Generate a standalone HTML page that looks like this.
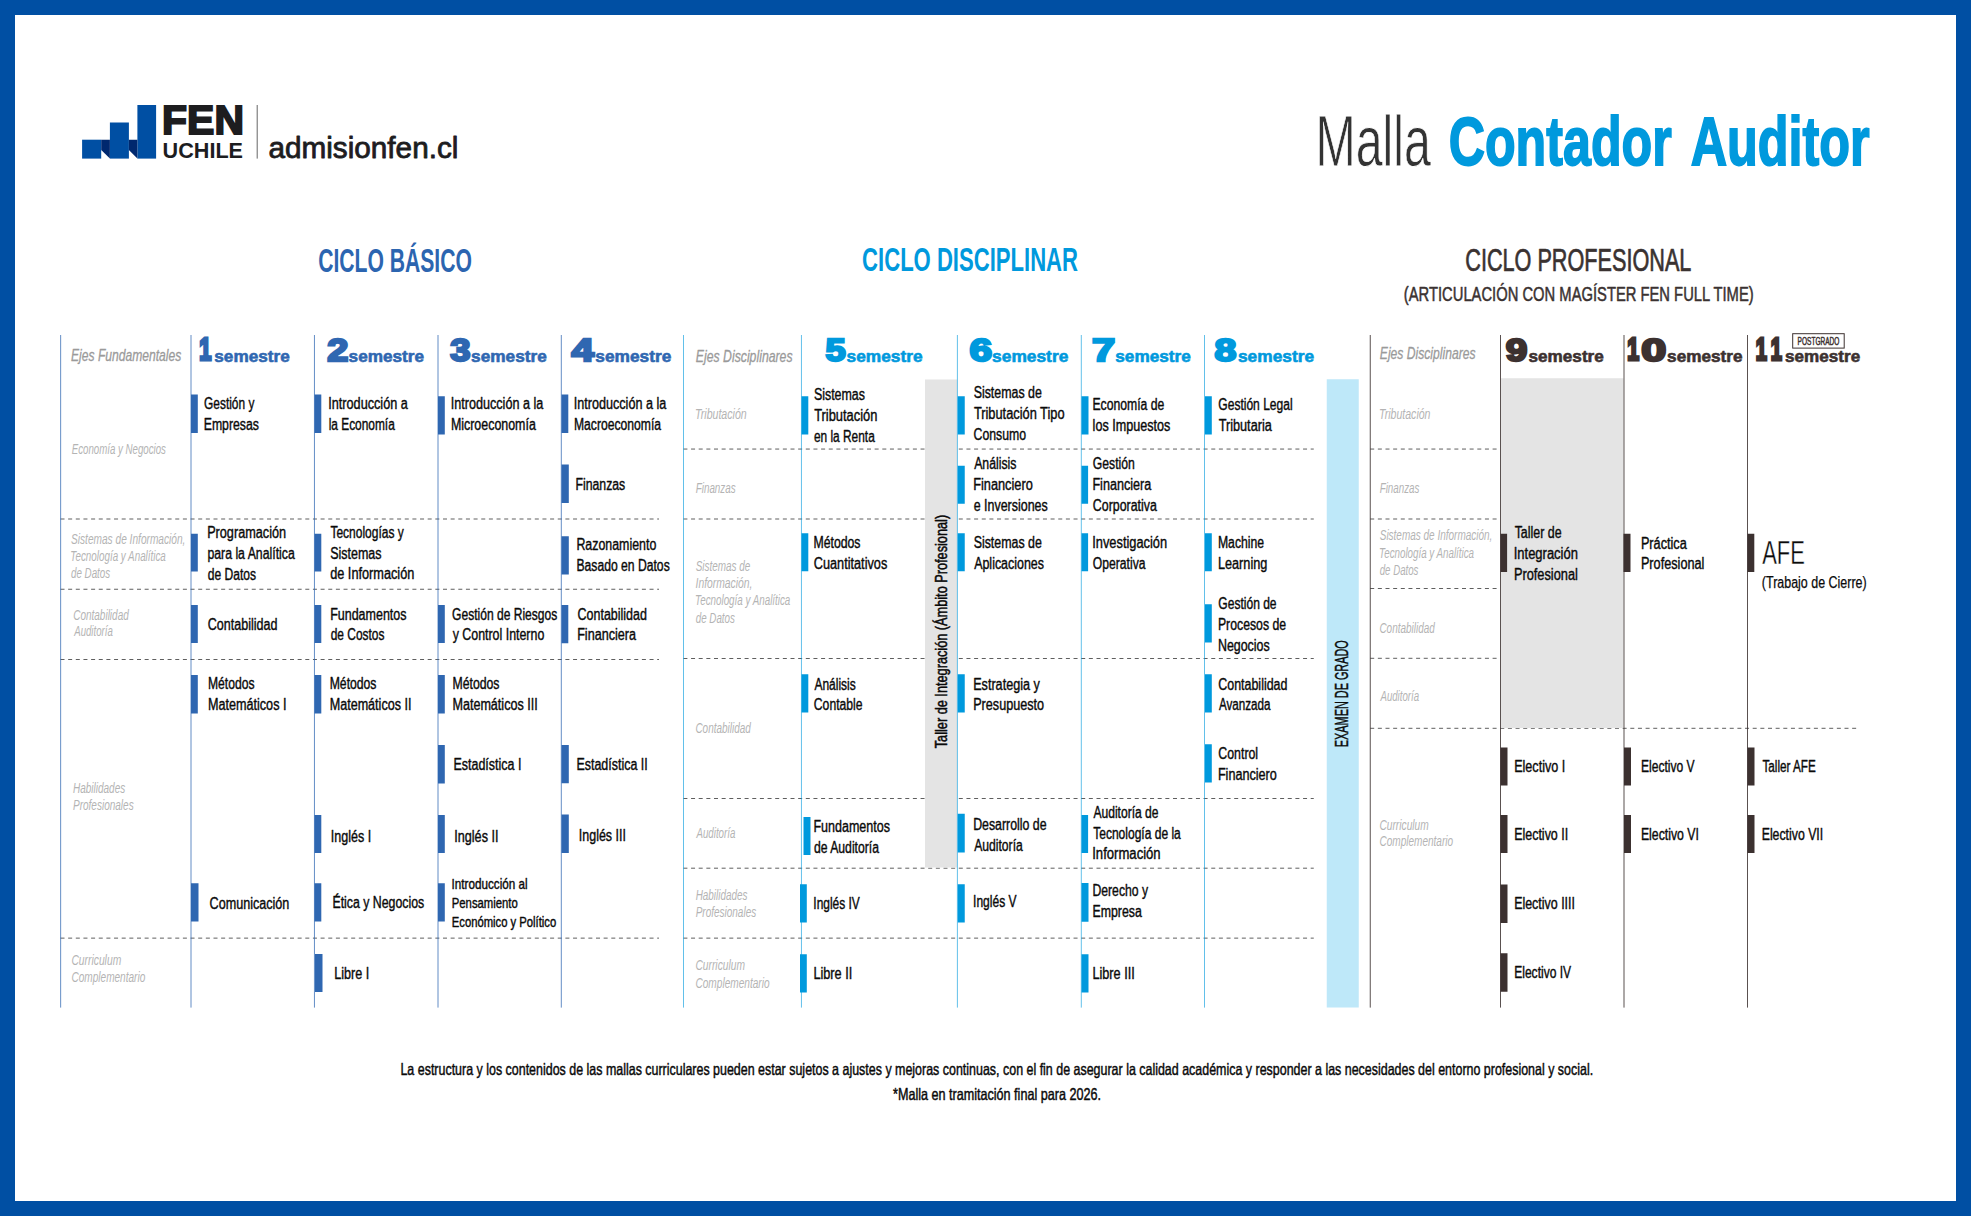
<!DOCTYPE html>
<html lang="es"><head><meta charset="utf-8"><title>Malla Contador Auditor</title>
<style>
html,body{margin:0;padding:0;background:#004fa3;}
body{width:1971px;height:1216px;overflow:hidden;}
svg{display:block;font-family:"Liberation Sans",sans-serif;}
text{white-space:pre;}
</style></head><body>
<svg width="1971" height="1216" viewBox="0 0 1971 1216">
<rect x="0.00" y="0.00" width="1971.00" height="1216.00" fill="#004fa3"/>
<rect x="15.00" y="15.00" width="1941.00" height="1186.00" fill="#ffffff"/>
<rect x="82.10" y="139.70" width="19.10" height="18.90" fill="#004fa3"/>
<rect x="109.90" y="122.50" width="19.00" height="36.10" fill="#004fa3"/>
<rect x="137.40" y="105.00" width="18.70" height="53.60" fill="#004fa3"/>
<polygon points="101.2,139.7 109.9,139.7 109.9,158.6 101.2,149.9" fill="#00286e"/>
<polygon points="128.9,139.7 137.4,139.7 137.4,158.6 128.9,149.9" fill="#00286e"/>
<text x="162.14" y="134.20" textLength="81.82" lengthAdjust="spacingAndGlyphs" font-size="40.60" fill="#1d1d1f" font-weight="700" stroke="#1d1d1f" stroke-width="2.0" stroke-linejoin="miter" stroke-miterlimit="3">FEN</text>
<text x="162.60" y="158.40" textLength="80.46" lengthAdjust="spacingAndGlyphs" font-size="21.60" fill="#1d1d1f" font-weight="700">UCHILE</text>
<line x1="257.20" y1="105.00" x2="257.20" y2="158.60" stroke="#666666" stroke-width="1"/>
<text x="268.44" y="157.50" textLength="189.96" lengthAdjust="spacingAndGlyphs" font-size="28.60" fill="#1d1d1f" stroke="#1d1d1f" stroke-width="0.8" stroke-linejoin="round" stroke-miterlimit="3">admisionfen.cl</text>
<text x="1315.41" y="165.60" textLength="115.58" lengthAdjust="spacingAndGlyphs" font-size="72.40" fill="#333333" stroke="#ffffff" stroke-width="0.8" stroke-linejoin="round">Malla</text>
<text x="1448.69" y="164.50" textLength="223.11" lengthAdjust="spacingAndGlyphs" font-size="68.80" fill="#0099dd" font-weight="700" stroke="#0099dd" stroke-width="1.8" stroke-linejoin="miter" stroke-miterlimit="3">Contador</text>
<text x="1690.64" y="164.50" textLength="179.11" lengthAdjust="spacingAndGlyphs" font-size="68.80" fill="#0099dd" font-weight="700" stroke="#0099dd" stroke-width="1.8" stroke-linejoin="miter" stroke-miterlimit="3">Auditor</text>
<text x="318.15" y="272.00" textLength="153.75" lengthAdjust="spacingAndGlyphs" font-size="32.30" fill="#2c65b0" font-weight="700">CICLO BÁSICO</text>
<text x="862.12" y="271.25" textLength="215.89" lengthAdjust="spacingAndGlyphs" font-size="32.70" fill="#0099dd" font-weight="700">CICLO DISCIPLINAR</text>
<text x="1465.27" y="271.45" textLength="226.13" lengthAdjust="spacingAndGlyphs" font-size="32.00" fill="#3a3231" stroke="#3a3231" stroke-width="0.7" stroke-linejoin="round" stroke-miterlimit="3">CICLO PROFESIONAL</text>
<text x="1403.83" y="300.55" textLength="349.83" lengthAdjust="spacingAndGlyphs" font-size="19.60" fill="#3a3231" stroke="#3a3231" stroke-width="0.5" stroke-linejoin="round" stroke-miterlimit="3">(ARTICULACIÓN CON MAGÍSTER FEN FULL TIME)</text>
<line x1="60.50" y1="519.00" x2="659.00" y2="519.00" stroke="#1a1a1a" stroke-width="0.7" stroke-dasharray="4 3.65"/>
<line x1="60.50" y1="589.25" x2="659.00" y2="589.25" stroke="#1a1a1a" stroke-width="0.7" stroke-dasharray="4 3.65"/>
<line x1="60.50" y1="659.50" x2="659.00" y2="659.50" stroke="#1a1a1a" stroke-width="0.7" stroke-dasharray="4 3.65"/>
<line x1="60.50" y1="938.14" x2="659.00" y2="938.14" stroke="#1a1a1a" stroke-width="0.7" stroke-dasharray="4 3.65"/>
<line x1="683.40" y1="449.05" x2="1313.75" y2="449.05" stroke="#1a1a1a" stroke-width="0.7" stroke-dasharray="4 3.65"/>
<line x1="683.40" y1="519.00" x2="1313.75" y2="519.00" stroke="#1a1a1a" stroke-width="0.7" stroke-dasharray="4 3.65"/>
<line x1="683.40" y1="658.50" x2="1313.75" y2="658.50" stroke="#1a1a1a" stroke-width="0.7" stroke-dasharray="4 3.65"/>
<line x1="683.40" y1="798.50" x2="1313.75" y2="798.50" stroke="#1a1a1a" stroke-width="0.7" stroke-dasharray="4 3.65"/>
<line x1="683.40" y1="868.20" x2="1313.75" y2="868.20" stroke="#1a1a1a" stroke-width="0.7" stroke-dasharray="4 3.65"/>
<line x1="683.40" y1="938.14" x2="1313.75" y2="938.14" stroke="#1a1a1a" stroke-width="0.7" stroke-dasharray="4 3.65"/>
<line x1="1370.20" y1="449.05" x2="1496.75" y2="449.05" stroke="#1a1a1a" stroke-width="0.7" stroke-dasharray="4 3.65"/>
<line x1="1370.20" y1="519.00" x2="1496.75" y2="519.00" stroke="#1a1a1a" stroke-width="0.7" stroke-dasharray="4 3.65"/>
<line x1="1370.20" y1="588.50" x2="1496.75" y2="588.50" stroke="#1a1a1a" stroke-width="0.7" stroke-dasharray="4 3.65"/>
<line x1="1370.20" y1="658.30" x2="1496.75" y2="658.30" stroke="#1a1a1a" stroke-width="0.7" stroke-dasharray="4 3.65"/>
<line x1="1370.20" y1="728.30" x2="1858.00" y2="728.30" stroke="#1a1a1a" stroke-width="0.7" stroke-dasharray="4 3.65"/>
<rect x="925.00" y="379.50" width="32.20" height="488.00" fill="#e4e4e4"/>
<rect x="1326.75" y="379.25" width="32.00" height="628.25" fill="#bee8f9"/>
<rect x="1501.00" y="378.25" width="122.50" height="349.75" fill="#e4e4e4"/>
<line x1="60.65" y1="335.00" x2="60.65" y2="1007.60" stroke="#2f67b1" stroke-width="0.75"/>
<line x1="191.00" y1="335.00" x2="191.00" y2="1007.60" stroke="#2f67b1" stroke-width="0.75"/>
<line x1="314.45" y1="335.00" x2="314.45" y2="1007.60" stroke="#2f67b1" stroke-width="0.75"/>
<line x1="438.00" y1="335.00" x2="438.00" y2="1007.60" stroke="#2f67b1" stroke-width="0.75"/>
<line x1="561.30" y1="335.00" x2="561.30" y2="1007.60" stroke="#2f67b1" stroke-width="0.75"/>
<line x1="683.50" y1="335.00" x2="683.50" y2="1007.60" stroke="#0099dd" stroke-width="0.62"/>
<line x1="801.45" y1="335.00" x2="801.45" y2="1007.60" stroke="#0099dd" stroke-width="0.62"/>
<line x1="957.40" y1="335.00" x2="957.40" y2="1007.60" stroke="#0099dd" stroke-width="0.62"/>
<line x1="1081.30" y1="335.00" x2="1081.30" y2="1007.60" stroke="#0099dd" stroke-width="0.62"/>
<line x1="1204.50" y1="335.00" x2="1204.50" y2="1007.60" stroke="#0099dd" stroke-width="0.62"/>
<line x1="1370.25" y1="335.00" x2="1370.25" y2="1007.60" stroke="#3c3130" stroke-width="0.85"/>
<line x1="1500.50" y1="335.00" x2="1500.50" y2="1007.60" stroke="#3c3130" stroke-width="0.85"/>
<line x1="1624.00" y1="335.00" x2="1624.00" y2="1007.60" stroke="#3c3130" stroke-width="0.85"/>
<line x1="1747.50" y1="335.00" x2="1747.50" y2="1007.60" stroke="#3c3130" stroke-width="0.85"/>
<text x="199.14" y="360.40" textLength="12.08" lengthAdjust="spacingAndGlyphs" font-size="31.00" fill="#2f67b1" font-weight="700" stroke="#2f67b1" stroke-width="3.2" stroke-linejoin="miter" stroke-miterlimit="3">1</text>
<text x="214.30" y="361.60" textLength="75.40" lengthAdjust="spacingAndGlyphs" font-size="16.90" fill="#2f67b1" font-weight="700" stroke="#2f67b1" stroke-width="0.6" stroke-linejoin="round" stroke-miterlimit="3">semestre</text>
<text x="327.17" y="360.80" textLength="21.09" lengthAdjust="spacingAndGlyphs" font-size="32.14" fill="#2f67b1" font-weight="700" stroke="#2f67b1" stroke-width="2.4" stroke-linejoin="miter" stroke-miterlimit="3">2</text>
<text x="348.60" y="361.60" textLength="75.50" lengthAdjust="spacingAndGlyphs" font-size="16.90" fill="#2f67b1" font-weight="700" stroke="#2f67b1" stroke-width="0.6" stroke-linejoin="round" stroke-miterlimit="3">semestre</text>
<text x="450.38" y="360.80" textLength="20.23" lengthAdjust="spacingAndGlyphs" font-size="32.14" fill="#2f67b1" font-weight="700" stroke="#2f67b1" stroke-width="2.4" stroke-linejoin="miter" stroke-miterlimit="3">3</text>
<text x="471.10" y="361.60" textLength="75.70" lengthAdjust="spacingAndGlyphs" font-size="16.90" fill="#2f67b1" font-weight="700" stroke="#2f67b1" stroke-width="0.6" stroke-linejoin="round" stroke-miterlimit="3">semestre</text>
<text x="571.59" y="360.80" textLength="22.45" lengthAdjust="spacingAndGlyphs" font-size="32.14" fill="#2f67b1" font-weight="700" stroke="#2f67b1" stroke-width="2.4" stroke-linejoin="miter" stroke-miterlimit="3">4</text>
<text x="595.29" y="361.60" textLength="76.01" lengthAdjust="spacingAndGlyphs" font-size="16.90" fill="#2f67b1" font-weight="700" stroke="#2f67b1" stroke-width="0.6" stroke-linejoin="round" stroke-miterlimit="3">semestre</text>
<text x="825.61" y="360.80" textLength="20.23" lengthAdjust="spacingAndGlyphs" font-size="32.14" fill="#0099dd" font-weight="700" stroke="#0099dd" stroke-width="2.4" stroke-linejoin="miter" stroke-miterlimit="3">5</text>
<text x="846.59" y="361.60" textLength="76.01" lengthAdjust="spacingAndGlyphs" font-size="16.90" fill="#0099dd" font-weight="700" stroke="#0099dd" stroke-width="0.6" stroke-linejoin="round" stroke-miterlimit="3">semestre</text>
<text x="969.43" y="360.80" textLength="22.59" lengthAdjust="spacingAndGlyphs" font-size="32.14" fill="#0099dd" font-weight="700" stroke="#0099dd" stroke-width="2.4" stroke-linejoin="miter" stroke-miterlimit="3">6</text>
<text x="992.09" y="361.60" textLength="76.21" lengthAdjust="spacingAndGlyphs" font-size="16.90" fill="#0099dd" font-weight="700" stroke="#0099dd" stroke-width="0.6" stroke-linejoin="round" stroke-miterlimit="3">semestre</text>
<text x="1091.93" y="360.80" textLength="23.19" lengthAdjust="spacingAndGlyphs" font-size="32.14" fill="#0099dd" font-weight="700" stroke="#0099dd" stroke-width="2.4" stroke-linejoin="miter" stroke-miterlimit="3">7</text>
<text x="1115.30" y="361.60" textLength="75.50" lengthAdjust="spacingAndGlyphs" font-size="16.90" fill="#0099dd" font-weight="700" stroke="#0099dd" stroke-width="0.6" stroke-linejoin="round" stroke-miterlimit="3">semestre</text>
<text x="1214.42" y="360.80" textLength="21.85" lengthAdjust="spacingAndGlyphs" font-size="32.14" fill="#0099dd" font-weight="700" stroke="#0099dd" stroke-width="2.4" stroke-linejoin="miter" stroke-miterlimit="3">8</text>
<text x="1237.99" y="361.60" textLength="76.06" lengthAdjust="spacingAndGlyphs" font-size="16.90" fill="#0099dd" font-weight="700" stroke="#0099dd" stroke-width="0.6" stroke-linejoin="round" stroke-miterlimit="3">semestre</text>
<text x="1505.84" y="360.80" textLength="21.62" lengthAdjust="spacingAndGlyphs" font-size="32.14" fill="#3c3130" font-weight="700" stroke="#3c3130" stroke-width="2.4" stroke-linejoin="miter" stroke-miterlimit="3">9</text>
<text x="1528.50" y="361.60" textLength="75.30" lengthAdjust="spacingAndGlyphs" font-size="16.90" fill="#3c3130" font-weight="700" stroke="#3c3130" stroke-width="0.6" stroke-linejoin="round" stroke-miterlimit="3">semestre</text>
<text x="1627.17" y="360.40" textLength="11.84" lengthAdjust="spacingAndGlyphs" font-size="31.00" fill="#3c3130" font-weight="700" stroke="#3c3130" stroke-width="3.2" stroke-linejoin="miter" stroke-miterlimit="3">1</text>
<text x="1641.20" y="360.80" textLength="25.06" lengthAdjust="spacingAndGlyphs" font-size="32.14" fill="#3c3130" font-weight="700" stroke="#3c3130" stroke-width="2.4" stroke-linejoin="miter" stroke-miterlimit="3">0</text>
<text x="1667.10" y="361.60" textLength="75.50" lengthAdjust="spacingAndGlyphs" font-size="16.90" fill="#3c3130" font-weight="700" stroke="#3c3130" stroke-width="0.6" stroke-linejoin="round" stroke-miterlimit="3">semestre</text>
<text x="1755.75" y="360.40" textLength="11.12" lengthAdjust="spacingAndGlyphs" font-size="31.00" fill="#3c3130" font-weight="700" stroke="#3c3130" stroke-width="3.2" stroke-linejoin="miter" stroke-miterlimit="3">1</text>
<text x="1770.75" y="360.40" textLength="11.12" lengthAdjust="spacingAndGlyphs" font-size="31.00" fill="#3c3130" font-weight="700" stroke="#3c3130" stroke-width="3.2" stroke-linejoin="miter" stroke-miterlimit="3">1</text>
<text x="1785.10" y="361.60" textLength="75.09" lengthAdjust="spacingAndGlyphs" font-size="16.90" fill="#3c3130" font-weight="700" stroke="#3c3130" stroke-width="0.6" stroke-linejoin="round" stroke-miterlimit="3">semestre</text>
<rect x="1792.7" y="333.7" width="51.5" height="14.4" fill="#ffffff" stroke="#3c3130" stroke-width="1"/>
<text x="1797.61" y="344.75" textLength="41.75" lengthAdjust="spacingAndGlyphs" font-size="10.60" fill="#3c3130" stroke="#3c3130" stroke-width="0.5" stroke-linejoin="round" stroke-miterlimit="3">POSTGRADO</text>
<text x="71.04" y="361.10" textLength="110.29" lengthAdjust="spacingAndGlyphs" font-size="16.60" fill="#9a9a9a" font-style="italic" stroke="#9a9a9a" stroke-width="0.3" stroke-linejoin="round" stroke-miterlimit="3">Ejes Fundamentales</text>
<text x="71.71" y="453.75" textLength="94.23" lengthAdjust="spacingAndGlyphs" font-size="14.80" fill="#b4b4b4" font-style="italic">Economía y Negocios</text>
<text x="70.97" y="543.75" textLength="114.45" lengthAdjust="spacingAndGlyphs" font-size="14.80" fill="#b4b4b4" font-style="italic">Sistemas de Información,</text>
<text x="70.37" y="560.50" textLength="95.46" lengthAdjust="spacingAndGlyphs" font-size="14.80" fill="#b4b4b4" font-style="italic">Tecnología y Analítica</text>
<text x="70.93" y="577.50" textLength="39.27" lengthAdjust="spacingAndGlyphs" font-size="14.80" fill="#b4b4b4" font-style="italic">de Datos</text>
<text x="73.20" y="619.50" textLength="55.55" lengthAdjust="spacingAndGlyphs" font-size="14.80" fill="#b4b4b4" font-style="italic">Contabilidad</text>
<text x="74.23" y="636.25" textLength="38.58" lengthAdjust="spacingAndGlyphs" font-size="14.80" fill="#b4b4b4" font-style="italic">Auditoría</text>
<text x="72.95" y="792.50" textLength="52.26" lengthAdjust="spacingAndGlyphs" font-size="14.80" fill="#b4b4b4" font-style="italic">Habilidades</text>
<text x="72.95" y="809.50" textLength="60.74" lengthAdjust="spacingAndGlyphs" font-size="14.80" fill="#b4b4b4" font-style="italic">Profesionales</text>
<text x="71.43" y="964.50" textLength="49.80" lengthAdjust="spacingAndGlyphs" font-size="14.80" fill="#b4b4b4" font-style="italic">Curriculum</text>
<text x="71.45" y="981.50" textLength="73.87" lengthAdjust="spacingAndGlyphs" font-size="14.80" fill="#b4b4b4" font-style="italic">Complementario</text>
<text x="695.78" y="362.35" textLength="96.81" lengthAdjust="spacingAndGlyphs" font-size="16.60" fill="#9a9a9a" font-style="italic" stroke="#9a9a9a" stroke-width="0.3" stroke-linejoin="round" stroke-miterlimit="3">Ejes Disciplinares</text>
<text x="695.05" y="419.25" textLength="51.68" lengthAdjust="spacingAndGlyphs" font-size="14.80" fill="#b4b4b4" font-style="italic">Tributación</text>
<text x="695.70" y="493.00" textLength="40.00" lengthAdjust="spacingAndGlyphs" font-size="14.80" fill="#b4b4b4" font-style="italic">Finanzas</text>
<text x="695.73" y="570.75" textLength="54.62" lengthAdjust="spacingAndGlyphs" font-size="14.80" fill="#b4b4b4" font-style="italic">Sistemas de</text>
<text x="695.59" y="587.50" textLength="56.85" lengthAdjust="spacingAndGlyphs" font-size="14.80" fill="#b4b4b4" font-style="italic">Información,</text>
<text x="695.12" y="604.50" textLength="95.20" lengthAdjust="spacingAndGlyphs" font-size="14.80" fill="#b4b4b4" font-style="italic">Tecnología y Analítica</text>
<text x="695.68" y="622.50" textLength="39.27" lengthAdjust="spacingAndGlyphs" font-size="14.80" fill="#b4b4b4" font-style="italic">de Datos</text>
<text x="695.45" y="733.00" textLength="55.30" lengthAdjust="spacingAndGlyphs" font-size="14.80" fill="#b4b4b4" font-style="italic">Contabilidad</text>
<text x="696.49" y="837.50" textLength="38.83" lengthAdjust="spacingAndGlyphs" font-size="14.80" fill="#b4b4b4" font-style="italic">Auditoría</text>
<text x="695.70" y="899.50" textLength="51.75" lengthAdjust="spacingAndGlyphs" font-size="14.80" fill="#b4b4b4" font-style="italic">Habilidades</text>
<text x="695.70" y="916.75" textLength="60.49" lengthAdjust="spacingAndGlyphs" font-size="14.80" fill="#b4b4b4" font-style="italic">Profesionales</text>
<text x="695.44" y="969.50" textLength="49.54" lengthAdjust="spacingAndGlyphs" font-size="14.80" fill="#b4b4b4" font-style="italic">Curriculum</text>
<text x="695.44" y="987.50" textLength="74.13" lengthAdjust="spacingAndGlyphs" font-size="14.80" fill="#b4b4b4" font-style="italic">Complementario</text>
<text x="1379.79" y="359.10" textLength="95.80" lengthAdjust="spacingAndGlyphs" font-size="16.60" fill="#9a9a9a" font-style="italic" stroke="#9a9a9a" stroke-width="0.3" stroke-linejoin="round" stroke-miterlimit="3">Ejes Disciplinares</text>
<text x="1379.05" y="419.25" textLength="51.43" lengthAdjust="spacingAndGlyphs" font-size="14.80" fill="#b4b4b4" font-style="italic">Tributación</text>
<text x="1379.71" y="493.00" textLength="39.74" lengthAdjust="spacingAndGlyphs" font-size="14.80" fill="#b4b4b4" font-style="italic">Finanzas</text>
<text x="1379.73" y="540.00" textLength="112.68" lengthAdjust="spacingAndGlyphs" font-size="14.80" fill="#b4b4b4" font-style="italic">Sistemas de Información,</text>
<text x="1379.12" y="557.50" textLength="94.95" lengthAdjust="spacingAndGlyphs" font-size="14.80" fill="#b4b4b4" font-style="italic">Tecnología y Analítica</text>
<text x="1379.69" y="574.50" textLength="38.76" lengthAdjust="spacingAndGlyphs" font-size="14.80" fill="#b4b4b4" font-style="italic">de Datos</text>
<text x="1379.45" y="633.00" textLength="55.30" lengthAdjust="spacingAndGlyphs" font-size="14.80" fill="#b4b4b4" font-style="italic">Contabilidad</text>
<text x="1380.48" y="700.50" textLength="38.58" lengthAdjust="spacingAndGlyphs" font-size="14.80" fill="#b4b4b4" font-style="italic">Auditoría</text>
<text x="1379.44" y="829.50" textLength="49.29" lengthAdjust="spacingAndGlyphs" font-size="14.80" fill="#b4b4b4" font-style="italic">Curriculum</text>
<text x="1379.45" y="846.25" textLength="73.62" lengthAdjust="spacingAndGlyphs" font-size="14.80" fill="#b4b4b4" font-style="italic">Complementario</text>
<rect x="191.00" y="394.50" width="6.80" height="38.50" fill="#2f67b1"/>
<text x="204.11" y="409.00" textLength="50.22" lengthAdjust="spacingAndGlyphs" font-size="16.00" fill="#0a0a0a" stroke="#0a0a0a" stroke-width="0.4" stroke-linejoin="round" stroke-miterlimit="3">Gestión y</text>
<text x="203.69" y="429.75" textLength="55.28" lengthAdjust="spacingAndGlyphs" font-size="16.00" fill="#0a0a0a" stroke="#0a0a0a" stroke-width="0.4" stroke-linejoin="round" stroke-miterlimit="3">Empresas</text>
<rect x="191.00" y="533.75" width="6.80" height="37.75" fill="#2f67b1"/>
<text x="207.15" y="537.75" textLength="78.94" lengthAdjust="spacingAndGlyphs" font-size="16.00" fill="#0a0a0a" stroke="#0a0a0a" stroke-width="0.4" stroke-linejoin="round" stroke-miterlimit="3">Programación</text>
<text x="207.40" y="558.50" textLength="87.38" lengthAdjust="spacingAndGlyphs" font-size="16.00" fill="#0a0a0a" stroke="#0a0a0a" stroke-width="0.4" stroke-linejoin="round" stroke-miterlimit="3">para la Analítica</text>
<text x="207.69" y="579.50" textLength="48.29" lengthAdjust="spacingAndGlyphs" font-size="16.00" fill="#0a0a0a" stroke="#0a0a0a" stroke-width="0.4" stroke-linejoin="round" stroke-miterlimit="3">de Datos</text>
<rect x="191.00" y="605.00" width="6.80" height="38.00" fill="#2f67b1"/>
<text x="207.82" y="629.50" textLength="69.54" lengthAdjust="spacingAndGlyphs" font-size="16.00" fill="#0a0a0a" stroke="#0a0a0a" stroke-width="0.4" stroke-linejoin="round" stroke-miterlimit="3">Contabilidad</text>
<rect x="191.00" y="675.00" width="6.80" height="38.50" fill="#2f67b1"/>
<text x="207.95" y="689.00" textLength="46.53" lengthAdjust="spacingAndGlyphs" font-size="16.00" fill="#0a0a0a" stroke="#0a0a0a" stroke-width="0.4" stroke-linejoin="round" stroke-miterlimit="3">Métodos</text>
<text x="207.91" y="710.25" textLength="78.55" lengthAdjust="spacingAndGlyphs" font-size="16.00" fill="#0a0a0a" stroke="#0a0a0a" stroke-width="0.4" stroke-linejoin="round" stroke-miterlimit="3">Matemáticos I</text>
<rect x="191.00" y="883.25" width="7.50" height="38.25" fill="#2f67b1"/>
<text x="209.57" y="908.50" textLength="79.79" lengthAdjust="spacingAndGlyphs" font-size="16.00" fill="#0a0a0a" stroke="#0a0a0a" stroke-width="0.4" stroke-linejoin="round" stroke-miterlimit="3">Comunicación</text>
<rect x="314.50" y="394.50" width="6.80" height="38.50" fill="#2f67b1"/>
<text x="328.28" y="409.00" textLength="79.51" lengthAdjust="spacingAndGlyphs" font-size="16.00" fill="#0a0a0a" stroke="#0a0a0a" stroke-width="0.4" stroke-linejoin="round" stroke-miterlimit="3">Introducción a</text>
<text x="328.65" y="429.75" textLength="66.14" lengthAdjust="spacingAndGlyphs" font-size="16.00" fill="#0a0a0a" stroke="#0a0a0a" stroke-width="0.4" stroke-linejoin="round" stroke-miterlimit="3">la Economía</text>
<rect x="314.50" y="533.75" width="6.80" height="37.75" fill="#2f67b1"/>
<text x="330.43" y="537.75" textLength="73.40" lengthAdjust="spacingAndGlyphs" font-size="16.00" fill="#0a0a0a" stroke="#0a0a0a" stroke-width="0.4" stroke-linejoin="round" stroke-miterlimit="3">Tecnologías y</text>
<text x="330.14" y="558.50" textLength="51.35" lengthAdjust="spacingAndGlyphs" font-size="16.00" fill="#0a0a0a" stroke="#0a0a0a" stroke-width="0.4" stroke-linejoin="round" stroke-miterlimit="3">Sistemas</text>
<text x="330.16" y="579.00" textLength="84.19" lengthAdjust="spacingAndGlyphs" font-size="16.00" fill="#0a0a0a" stroke="#0a0a0a" stroke-width="0.4" stroke-linejoin="round" stroke-miterlimit="3">de Información</text>
<rect x="314.50" y="605.00" width="6.80" height="38.00" fill="#2f67b1"/>
<text x="330.17" y="619.75" textLength="76.32" lengthAdjust="spacingAndGlyphs" font-size="16.00" fill="#0a0a0a" stroke="#0a0a0a" stroke-width="0.4" stroke-linejoin="round" stroke-miterlimit="3">Fundamentos</text>
<text x="330.69" y="639.75" textLength="53.78" lengthAdjust="spacingAndGlyphs" font-size="16.00" fill="#0a0a0a" stroke="#0a0a0a" stroke-width="0.4" stroke-linejoin="round" stroke-miterlimit="3">de Costos</text>
<rect x="314.50" y="675.00" width="6.80" height="38.50" fill="#2f67b1"/>
<text x="329.69" y="689.00" textLength="46.79" lengthAdjust="spacingAndGlyphs" font-size="16.00" fill="#0a0a0a" stroke="#0a0a0a" stroke-width="0.4" stroke-linejoin="round" stroke-miterlimit="3">Métodos</text>
<text x="329.66" y="710.25" textLength="81.80" lengthAdjust="spacingAndGlyphs" font-size="16.00" fill="#0a0a0a" stroke="#0a0a0a" stroke-width="0.4" stroke-linejoin="round" stroke-miterlimit="3">Matemáticos II</text>
<rect x="314.50" y="815.00" width="6.80" height="38.00" fill="#2f67b1"/>
<text x="330.79" y="842.00" textLength="40.41" lengthAdjust="spacingAndGlyphs" font-size="16.00" fill="#0a0a0a" stroke="#0a0a0a" stroke-width="0.4" stroke-linejoin="round" stroke-miterlimit="3">Inglés I</text>
<rect x="314.50" y="883.25" width="6.80" height="38.25" fill="#2f67b1"/>
<text x="332.43" y="907.75" textLength="91.80" lengthAdjust="spacingAndGlyphs" font-size="16.00" fill="#0a0a0a" stroke="#0a0a0a" stroke-width="0.4" stroke-linejoin="round" stroke-miterlimit="3">Ética y Negocios</text>
<rect x="315.00" y="954.00" width="7.50" height="38.00" fill="#2f67b1"/>
<text x="334.16" y="979.00" textLength="35.05" lengthAdjust="spacingAndGlyphs" font-size="16.00" fill="#0a0a0a" stroke="#0a0a0a" stroke-width="0.4" stroke-linejoin="round" stroke-miterlimit="3">Libre I</text>
<rect x="438.00" y="396.25" width="6.80" height="38.25" fill="#2f67b1"/>
<text x="450.78" y="409.00" textLength="92.49" lengthAdjust="spacingAndGlyphs" font-size="16.00" fill="#0a0a0a" stroke="#0a0a0a" stroke-width="0.4" stroke-linejoin="round" stroke-miterlimit="3">Introducción a la</text>
<text x="450.93" y="429.75" textLength="84.86" lengthAdjust="spacingAndGlyphs" font-size="16.00" fill="#0a0a0a" stroke="#0a0a0a" stroke-width="0.4" stroke-linejoin="round" stroke-miterlimit="3">Microeconomía</text>
<rect x="438.00" y="605.00" width="6.80" height="38.00" fill="#2f67b1"/>
<text x="452.10" y="619.75" textLength="105.12" lengthAdjust="spacingAndGlyphs" font-size="16.00" fill="#0a0a0a" stroke="#0a0a0a" stroke-width="0.4" stroke-linejoin="round" stroke-miterlimit="3">Gestión de Riesgos</text>
<text x="452.67" y="639.75" textLength="91.63" lengthAdjust="spacingAndGlyphs" font-size="16.00" fill="#0a0a0a" stroke="#0a0a0a" stroke-width="0.4" stroke-linejoin="round" stroke-miterlimit="3">y Control Interno</text>
<rect x="438.00" y="675.00" width="6.80" height="38.50" fill="#2f67b1"/>
<text x="452.44" y="689.00" textLength="47.05" lengthAdjust="spacingAndGlyphs" font-size="16.00" fill="#0a0a0a" stroke="#0a0a0a" stroke-width="0.4" stroke-linejoin="round" stroke-miterlimit="3">Métodos</text>
<text x="452.41" y="710.25" textLength="85.30" lengthAdjust="spacingAndGlyphs" font-size="16.00" fill="#0a0a0a" stroke="#0a0a0a" stroke-width="0.4" stroke-linejoin="round" stroke-miterlimit="3">Matemáticos III</text>
<rect x="438.00" y="745.00" width="6.80" height="38.50" fill="#2f67b1"/>
<text x="453.42" y="770.25" textLength="68.03" lengthAdjust="spacingAndGlyphs" font-size="16.00" fill="#0a0a0a" stroke="#0a0a0a" stroke-width="0.4" stroke-linejoin="round" stroke-miterlimit="3">Estadística I</text>
<rect x="438.00" y="815.00" width="6.80" height="38.00" fill="#2f67b1"/>
<text x="454.28" y="842.00" textLength="44.18" lengthAdjust="spacingAndGlyphs" font-size="16.00" fill="#0a0a0a" stroke="#0a0a0a" stroke-width="0.4" stroke-linejoin="round" stroke-miterlimit="3">Inglés II</text>
<rect x="438.00" y="883.25" width="6.80" height="38.25" fill="#2f67b1"/>
<text x="451.62" y="889.00" textLength="75.96" lengthAdjust="spacingAndGlyphs" font-size="14.20" fill="#0a0a0a" stroke="#0a0a0a" stroke-width="0.4" stroke-linejoin="round" stroke-miterlimit="3">Introducción al</text>
<text x="451.77" y="907.75" textLength="66.01" lengthAdjust="spacingAndGlyphs" font-size="14.20" fill="#0a0a0a" stroke="#0a0a0a" stroke-width="0.4" stroke-linejoin="round" stroke-miterlimit="3">Pensamiento</text>
<text x="451.77" y="926.50" textLength="104.50" lengthAdjust="spacingAndGlyphs" font-size="14.20" fill="#0a0a0a" stroke="#0a0a0a" stroke-width="0.4" stroke-linejoin="round" stroke-miterlimit="3">Económico y Político</text>
<rect x="561.50" y="394.50" width="6.80" height="38.50" fill="#2f67b1"/>
<text x="573.78" y="409.00" textLength="92.49" lengthAdjust="spacingAndGlyphs" font-size="16.00" fill="#0a0a0a" stroke="#0a0a0a" stroke-width="0.4" stroke-linejoin="round" stroke-miterlimit="3">Introducción a la</text>
<text x="573.95" y="429.75" textLength="87.07" lengthAdjust="spacingAndGlyphs" font-size="16.00" fill="#0a0a0a" stroke="#0a0a0a" stroke-width="0.4" stroke-linejoin="round" stroke-miterlimit="3">Macroeconomía</text>
<rect x="561.50" y="464.50" width="7.30" height="38.50" fill="#2f67b1"/>
<text x="575.44" y="490.25" textLength="49.79" lengthAdjust="spacingAndGlyphs" font-size="16.00" fill="#0a0a0a" stroke="#0a0a0a" stroke-width="0.4" stroke-linejoin="round" stroke-miterlimit="3">Finanzas</text>
<rect x="561.50" y="536.25" width="7.30" height="38.25" fill="#2f67b1"/>
<text x="576.43" y="549.75" textLength="79.88" lengthAdjust="spacingAndGlyphs" font-size="16.00" fill="#0a0a0a" stroke="#0a0a0a" stroke-width="0.4" stroke-linejoin="round" stroke-miterlimit="3">Razonamiento</text>
<text x="576.45" y="570.75" textLength="93.27" lengthAdjust="spacingAndGlyphs" font-size="16.00" fill="#0a0a0a" stroke="#0a0a0a" stroke-width="0.4" stroke-linejoin="round" stroke-miterlimit="3">Basado en Datos</text>
<rect x="561.50" y="605.00" width="6.80" height="38.25" fill="#2f67b1"/>
<text x="577.58" y="619.75" textLength="69.28" lengthAdjust="spacingAndGlyphs" font-size="16.00" fill="#0a0a0a" stroke="#0a0a0a" stroke-width="0.4" stroke-linejoin="round" stroke-miterlimit="3">Contabilidad</text>
<text x="577.16" y="639.75" textLength="58.88" lengthAdjust="spacingAndGlyphs" font-size="16.00" fill="#0a0a0a" stroke="#0a0a0a" stroke-width="0.4" stroke-linejoin="round" stroke-miterlimit="3">Financiera</text>
<rect x="561.50" y="745.00" width="7.30" height="38.25" fill="#2f67b1"/>
<text x="576.42" y="769.75" textLength="71.28" lengthAdjust="spacingAndGlyphs" font-size="16.00" fill="#0a0a0a" stroke="#0a0a0a" stroke-width="0.4" stroke-linejoin="round" stroke-miterlimit="3">Estadística II</text>
<rect x="561.50" y="814.50" width="7.30" height="38.50" fill="#2f67b1"/>
<text x="578.80" y="841.00" textLength="47.16" lengthAdjust="spacingAndGlyphs" font-size="16.00" fill="#0a0a0a" stroke="#0a0a0a" stroke-width="0.4" stroke-linejoin="round" stroke-miterlimit="3">Inglés III</text>
<rect x="801.50" y="396.25" width="6.80" height="38.25" fill="#0099dd"/>
<text x="813.89" y="400.25" textLength="51.09" lengthAdjust="spacingAndGlyphs" font-size="16.00" fill="#0a0a0a" stroke="#0a0a0a" stroke-width="0.4" stroke-linejoin="round" stroke-miterlimit="3">Sistemas</text>
<text x="814.16" y="421.00" textLength="63.22" lengthAdjust="spacingAndGlyphs" font-size="16.00" fill="#0a0a0a" stroke="#0a0a0a" stroke-width="0.4" stroke-linejoin="round" stroke-miterlimit="3">Tributación</text>
<text x="813.94" y="442.00" textLength="60.83" lengthAdjust="spacingAndGlyphs" font-size="16.00" fill="#0a0a0a" stroke="#0a0a0a" stroke-width="0.4" stroke-linejoin="round" stroke-miterlimit="3">en la Renta</text>
<rect x="801.50" y="533.25" width="6.80" height="38.00" fill="#0099dd"/>
<text x="813.44" y="547.75" textLength="47.05" lengthAdjust="spacingAndGlyphs" font-size="16.00" fill="#0a0a0a" stroke="#0a0a0a" stroke-width="0.4" stroke-linejoin="round" stroke-miterlimit="3">Métodos</text>
<text x="813.81" y="569.00" textLength="73.44" lengthAdjust="spacingAndGlyphs" font-size="16.00" fill="#0a0a0a" stroke="#0a0a0a" stroke-width="0.4" stroke-linejoin="round" stroke-miterlimit="3">Cuantitativos</text>
<rect x="801.50" y="674.25" width="6.80" height="38.25" fill="#0099dd"/>
<text x="814.42" y="689.50" textLength="41.31" lengthAdjust="spacingAndGlyphs" font-size="16.00" fill="#0a0a0a" stroke="#0a0a0a" stroke-width="0.4" stroke-linejoin="round" stroke-miterlimit="3">Análisis</text>
<text x="813.84" y="710.25" textLength="48.73" lengthAdjust="spacingAndGlyphs" font-size="16.00" fill="#0a0a0a" stroke="#0a0a0a" stroke-width="0.4" stroke-linejoin="round" stroke-miterlimit="3">Contable</text>
<rect x="803.50" y="817.00" width="7.00" height="38.00" fill="#0099dd"/>
<text x="813.42" y="832.00" textLength="76.57" lengthAdjust="spacingAndGlyphs" font-size="16.00" fill="#0a0a0a" stroke="#0a0a0a" stroke-width="0.4" stroke-linejoin="round" stroke-miterlimit="3">Fundamentos</text>
<text x="813.93" y="852.75" textLength="65.09" lengthAdjust="spacingAndGlyphs" font-size="16.00" fill="#0a0a0a" stroke="#0a0a0a" stroke-width="0.4" stroke-linejoin="round" stroke-miterlimit="3">de Auditoría</text>
<rect x="800.00" y="884.25" width="6.80" height="38.25" fill="#0099dd"/>
<text x="813.34" y="908.50" textLength="46.50" lengthAdjust="spacingAndGlyphs" font-size="16.00" fill="#0a0a0a" stroke="#0a0a0a" stroke-width="0.4" stroke-linejoin="round" stroke-miterlimit="3">Inglés IV</text>
<rect x="800.00" y="954.25" width="6.80" height="38.25" fill="#0099dd"/>
<text x="813.40" y="979.00" textLength="38.82" lengthAdjust="spacingAndGlyphs" font-size="16.00" fill="#0a0a0a" stroke="#0a0a0a" stroke-width="0.4" stroke-linejoin="round" stroke-miterlimit="3">Libre II</text>
<rect x="957.75" y="396.25" width="7.00" height="38.25" fill="#0099dd"/>
<text x="973.64" y="397.75" textLength="68.19" lengthAdjust="spacingAndGlyphs" font-size="16.00" fill="#0a0a0a" stroke="#0a0a0a" stroke-width="0.4" stroke-linejoin="round" stroke-miterlimit="3">Sistemas de</text>
<text x="973.91" y="418.50" textLength="90.66" lengthAdjust="spacingAndGlyphs" font-size="16.00" fill="#0a0a0a" stroke="#0a0a0a" stroke-width="0.4" stroke-linejoin="round" stroke-miterlimit="3">Tributación Tipo</text>
<text x="973.59" y="439.75" textLength="52.48" lengthAdjust="spacingAndGlyphs" font-size="16.00" fill="#0a0a0a" stroke="#0a0a0a" stroke-width="0.4" stroke-linejoin="round" stroke-miterlimit="3">Consumo</text>
<rect x="957.75" y="465.75" width="7.00" height="38.00" fill="#0099dd"/>
<text x="974.17" y="469.00" textLength="42.32" lengthAdjust="spacingAndGlyphs" font-size="16.00" fill="#0a0a0a" stroke="#0a0a0a" stroke-width="0.4" stroke-linejoin="round" stroke-miterlimit="3">Análisis</text>
<text x="973.15" y="489.75" textLength="59.69" lengthAdjust="spacingAndGlyphs" font-size="16.00" fill="#0a0a0a" stroke="#0a0a0a" stroke-width="0.4" stroke-linejoin="round" stroke-miterlimit="3">Financiero</text>
<text x="973.67" y="510.75" textLength="74.07" lengthAdjust="spacingAndGlyphs" font-size="16.00" fill="#0a0a0a" stroke="#0a0a0a" stroke-width="0.4" stroke-linejoin="round" stroke-miterlimit="3">e Inversiones</text>
<rect x="957.75" y="533.25" width="7.00" height="38.00" fill="#0099dd"/>
<text x="973.64" y="547.75" textLength="68.19" lengthAdjust="spacingAndGlyphs" font-size="16.00" fill="#0a0a0a" stroke="#0a0a0a" stroke-width="0.4" stroke-linejoin="round" stroke-miterlimit="3">Sistemas de</text>
<text x="974.17" y="569.00" textLength="69.81" lengthAdjust="spacingAndGlyphs" font-size="16.00" fill="#0a0a0a" stroke="#0a0a0a" stroke-width="0.4" stroke-linejoin="round" stroke-miterlimit="3">Aplicaciones</text>
<rect x="957.75" y="674.25" width="7.00" height="38.25" fill="#0099dd"/>
<text x="973.16" y="689.50" textLength="66.68" lengthAdjust="spacingAndGlyphs" font-size="16.00" fill="#0a0a0a" stroke="#0a0a0a" stroke-width="0.4" stroke-linejoin="round" stroke-miterlimit="3">Estrategia y</text>
<text x="973.16" y="710.25" textLength="70.93" lengthAdjust="spacingAndGlyphs" font-size="16.00" fill="#0a0a0a" stroke="#0a0a0a" stroke-width="0.4" stroke-linejoin="round" stroke-miterlimit="3">Presupuesto</text>
<rect x="957.75" y="813.75" width="7.00" height="38.75" fill="#0099dd"/>
<text x="973.18" y="830.25" textLength="73.39" lengthAdjust="spacingAndGlyphs" font-size="16.00" fill="#0a0a0a" stroke="#0a0a0a" stroke-width="0.4" stroke-linejoin="round" stroke-miterlimit="3">Desarrollo de</text>
<text x="974.17" y="851.00" textLength="48.60" lengthAdjust="spacingAndGlyphs" font-size="16.00" fill="#0a0a0a" stroke="#0a0a0a" stroke-width="0.4" stroke-linejoin="round" stroke-miterlimit="3">Auditoría</text>
<rect x="957.75" y="884.25" width="7.00" height="38.25" fill="#0099dd"/>
<text x="973.09" y="906.50" textLength="43.50" lengthAdjust="spacingAndGlyphs" font-size="16.00" fill="#0a0a0a" stroke="#0a0a0a" stroke-width="0.4" stroke-linejoin="round" stroke-miterlimit="3">Inglés V</text>
<rect x="1081.50" y="396.25" width="7.00" height="38.25" fill="#0099dd"/>
<text x="1092.44" y="409.75" textLength="71.88" lengthAdjust="spacingAndGlyphs" font-size="16.00" fill="#0a0a0a" stroke="#0a0a0a" stroke-width="0.4" stroke-linejoin="round" stroke-miterlimit="3">Economía de</text>
<text x="1092.60" y="430.50" textLength="77.63" lengthAdjust="spacingAndGlyphs" font-size="16.00" fill="#0a0a0a" stroke="#0a0a0a" stroke-width="0.4" stroke-linejoin="round" stroke-miterlimit="3">los Impuestos</text>
<rect x="1081.50" y="465.75" width="6.60" height="38.00" fill="#0099dd"/>
<text x="1092.84" y="469.00" textLength="41.99" lengthAdjust="spacingAndGlyphs" font-size="16.00" fill="#0a0a0a" stroke="#0a0a0a" stroke-width="0.4" stroke-linejoin="round" stroke-miterlimit="3">Gestión</text>
<text x="1092.41" y="489.75" textLength="58.88" lengthAdjust="spacingAndGlyphs" font-size="16.00" fill="#0a0a0a" stroke="#0a0a0a" stroke-width="0.4" stroke-linejoin="round" stroke-miterlimit="3">Financiera</text>
<text x="1092.83" y="510.75" textLength="63.96" lengthAdjust="spacingAndGlyphs" font-size="16.00" fill="#0a0a0a" stroke="#0a0a0a" stroke-width="0.4" stroke-linejoin="round" stroke-miterlimit="3">Corporativa</text>
<rect x="1081.50" y="533.25" width="6.60" height="38.00" fill="#0099dd"/>
<text x="1092.26" y="547.75" textLength="74.87" lengthAdjust="spacingAndGlyphs" font-size="16.00" fill="#0a0a0a" stroke="#0a0a0a" stroke-width="0.4" stroke-linejoin="round" stroke-miterlimit="3">Investigación</text>
<text x="1092.87" y="569.00" textLength="52.65" lengthAdjust="spacingAndGlyphs" font-size="16.00" fill="#0a0a0a" stroke="#0a0a0a" stroke-width="0.4" stroke-linejoin="round" stroke-miterlimit="3">Operativa</text>
<rect x="1081.50" y="815.00" width="6.60" height="38.00" fill="#0099dd"/>
<text x="1093.42" y="817.75" textLength="65.15" lengthAdjust="spacingAndGlyphs" font-size="16.00" fill="#0a0a0a" stroke="#0a0a0a" stroke-width="0.4" stroke-linejoin="round" stroke-miterlimit="3">Auditoría de</text>
<text x="1093.18" y="838.50" textLength="87.60" lengthAdjust="spacingAndGlyphs" font-size="16.00" fill="#0a0a0a" stroke="#0a0a0a" stroke-width="0.4" stroke-linejoin="round" stroke-miterlimit="3">Tecnología de la</text>
<text x="1092.24" y="859.00" textLength="68.41" lengthAdjust="spacingAndGlyphs" font-size="16.00" fill="#0a0a0a" stroke="#0a0a0a" stroke-width="0.4" stroke-linejoin="round" stroke-miterlimit="3">Información</text>
<rect x="1081.50" y="883.00" width="7.00" height="38.75" fill="#0099dd"/>
<text x="1092.44" y="896.00" textLength="55.64" lengthAdjust="spacingAndGlyphs" font-size="16.00" fill="#0a0a0a" stroke="#0a0a0a" stroke-width="0.4" stroke-linejoin="round" stroke-miterlimit="3">Derecho y</text>
<text x="1092.43" y="917.00" textLength="49.36" lengthAdjust="spacingAndGlyphs" font-size="16.00" fill="#0a0a0a" stroke="#0a0a0a" stroke-width="0.4" stroke-linejoin="round" stroke-miterlimit="3">Empresa</text>
<rect x="1081.50" y="954.25" width="7.00" height="38.25" fill="#0099dd"/>
<text x="1092.40" y="979.00" textLength="42.32" lengthAdjust="spacingAndGlyphs" font-size="16.00" fill="#0a0a0a" stroke="#0a0a0a" stroke-width="0.4" stroke-linejoin="round" stroke-miterlimit="3">Libre III</text>
<rect x="1205.00" y="396.25" width="6.80" height="38.25" fill="#0099dd"/>
<text x="1218.35" y="409.75" textLength="74.25" lengthAdjust="spacingAndGlyphs" font-size="16.00" fill="#0a0a0a" stroke="#0a0a0a" stroke-width="0.4" stroke-linejoin="round" stroke-miterlimit="3">Gestión Legal</text>
<text x="1218.66" y="430.50" textLength="53.13" lengthAdjust="spacingAndGlyphs" font-size="16.00" fill="#0a0a0a" stroke="#0a0a0a" stroke-width="0.4" stroke-linejoin="round" stroke-miterlimit="3">Tributaria</text>
<rect x="1205.00" y="533.25" width="6.80" height="38.00" fill="#0099dd"/>
<text x="1217.94" y="547.75" textLength="46.16" lengthAdjust="spacingAndGlyphs" font-size="16.00" fill="#0a0a0a" stroke="#0a0a0a" stroke-width="0.4" stroke-linejoin="round" stroke-miterlimit="3">Machine</text>
<text x="1217.90" y="569.00" textLength="49.47" lengthAdjust="spacingAndGlyphs" font-size="16.00" fill="#0a0a0a" stroke="#0a0a0a" stroke-width="0.4" stroke-linejoin="round" stroke-miterlimit="3">Learning</text>
<rect x="1205.00" y="604.25" width="6.80" height="38.25" fill="#0099dd"/>
<text x="1218.35" y="609.00" textLength="58.23" lengthAdjust="spacingAndGlyphs" font-size="16.00" fill="#0a0a0a" stroke="#0a0a0a" stroke-width="0.4" stroke-linejoin="round" stroke-miterlimit="3">Gestión de</text>
<text x="1217.94" y="629.75" textLength="68.15" lengthAdjust="spacingAndGlyphs" font-size="16.00" fill="#0a0a0a" stroke="#0a0a0a" stroke-width="0.4" stroke-linejoin="round" stroke-miterlimit="3">Procesos de</text>
<text x="1217.92" y="650.75" textLength="51.80" lengthAdjust="spacingAndGlyphs" font-size="16.00" fill="#0a0a0a" stroke="#0a0a0a" stroke-width="0.4" stroke-linejoin="round" stroke-miterlimit="3">Negocios</text>
<rect x="1205.00" y="674.25" width="6.80" height="38.25" fill="#0099dd"/>
<text x="1218.33" y="689.50" textLength="69.03" lengthAdjust="spacingAndGlyphs" font-size="16.00" fill="#0a0a0a" stroke="#0a0a0a" stroke-width="0.4" stroke-linejoin="round" stroke-miterlimit="3">Contabilidad</text>
<text x="1218.92" y="710.25" textLength="51.63" lengthAdjust="spacingAndGlyphs" font-size="16.00" fill="#0a0a0a" stroke="#0a0a0a" stroke-width="0.4" stroke-linejoin="round" stroke-miterlimit="3">Avanzada</text>
<rect x="1205.00" y="744.25" width="6.80" height="38.25" fill="#0099dd"/>
<text x="1218.33" y="759.00" textLength="39.78" lengthAdjust="spacingAndGlyphs" font-size="16.00" fill="#0a0a0a" stroke="#0a0a0a" stroke-width="0.4" stroke-linejoin="round" stroke-miterlimit="3">Control</text>
<text x="1217.91" y="780.25" textLength="58.92" lengthAdjust="spacingAndGlyphs" font-size="16.00" fill="#0a0a0a" stroke="#0a0a0a" stroke-width="0.4" stroke-linejoin="round" stroke-miterlimit="3">Financiero</text>
<rect x="1500.50" y="533.75" width="6.60" height="38.25" fill="#3c3130"/>
<text x="1514.67" y="537.75" textLength="46.91" lengthAdjust="spacingAndGlyphs" font-size="16.00" fill="#0a0a0a" stroke="#0a0a0a" stroke-width="0.4" stroke-linejoin="round" stroke-miterlimit="3">Taller de</text>
<text x="1513.75" y="558.50" textLength="64.11" lengthAdjust="spacingAndGlyphs" font-size="16.00" fill="#0a0a0a" stroke="#0a0a0a" stroke-width="0.4" stroke-linejoin="round" stroke-miterlimit="3">Integración</text>
<text x="1513.89" y="579.50" textLength="64.03" lengthAdjust="spacingAndGlyphs" font-size="16.00" fill="#0a0a0a" stroke="#0a0a0a" stroke-width="0.4" stroke-linejoin="round" stroke-miterlimit="3">Profesional</text>
<rect x="1500.50" y="747.50" width="7.00" height="38.00" fill="#3c3130"/>
<text x="1514.16" y="772.00" textLength="51.05" lengthAdjust="spacingAndGlyphs" font-size="16.00" fill="#0a0a0a" stroke="#0a0a0a" stroke-width="0.4" stroke-linejoin="round" stroke-miterlimit="3">Electivo I</text>
<rect x="1500.50" y="815.00" width="7.00" height="38.00" fill="#3c3130"/>
<text x="1514.17" y="839.75" textLength="54.03" lengthAdjust="spacingAndGlyphs" font-size="16.00" fill="#0a0a0a" stroke="#0a0a0a" stroke-width="0.4" stroke-linejoin="round" stroke-miterlimit="3">Electivo II</text>
<rect x="1500.50" y="884.50" width="7.00" height="38.50" fill="#3c3130"/>
<text x="1514.17" y="909.00" textLength="60.79" lengthAdjust="spacingAndGlyphs" font-size="16.00" fill="#0a0a0a" stroke="#0a0a0a" stroke-width="0.4" stroke-linejoin="round" stroke-miterlimit="3">Electivo IIII</text>
<rect x="1500.50" y="953.25" width="7.00" height="38.50" fill="#3c3130"/>
<text x="1514.21" y="977.75" textLength="56.89" lengthAdjust="spacingAndGlyphs" font-size="16.00" fill="#0a0a0a" stroke="#0a0a0a" stroke-width="0.4" stroke-linejoin="round" stroke-miterlimit="3">Electivo IV</text>
<rect x="1623.50" y="533.75" width="7.00" height="38.25" fill="#3c3130"/>
<text x="1640.90" y="548.50" textLength="45.90" lengthAdjust="spacingAndGlyphs" font-size="16.00" fill="#0a0a0a" stroke="#0a0a0a" stroke-width="0.4" stroke-linejoin="round" stroke-miterlimit="3">Práctica</text>
<text x="1640.90" y="569.00" textLength="63.51" lengthAdjust="spacingAndGlyphs" font-size="16.00" fill="#0a0a0a" stroke="#0a0a0a" stroke-width="0.4" stroke-linejoin="round" stroke-miterlimit="3">Profesional</text>
<rect x="1624.00" y="747.50" width="7.00" height="38.00" fill="#3c3130"/>
<text x="1640.95" y="772.00" textLength="53.64" lengthAdjust="spacingAndGlyphs" font-size="16.00" fill="#0a0a0a" stroke="#0a0a0a" stroke-width="0.4" stroke-linejoin="round" stroke-miterlimit="3">Electivo V</text>
<rect x="1624.00" y="815.00" width="7.00" height="38.00" fill="#3c3130"/>
<text x="1640.94" y="839.75" textLength="57.99" lengthAdjust="spacingAndGlyphs" font-size="16.00" fill="#0a0a0a" stroke="#0a0a0a" stroke-width="0.4" stroke-linejoin="round" stroke-miterlimit="3">Electivo VI</text>
<rect x="1747.50" y="533.75" width="6.80" height="38.25" fill="#3c3130"/>
<text x="1762.25" y="564.20" textLength="42.63" lengthAdjust="spacingAndGlyphs" font-size="34.00" fill="#0a0a0a" stroke="#ffffff" stroke-width="0.4" stroke-linejoin="round">AFE</text>
<text x="1761.85" y="588.12" textLength="104.78" lengthAdjust="spacingAndGlyphs" font-size="15.80" fill="#0a0a0a" stroke="#0a0a0a" stroke-width="0.25" stroke-linejoin="round" stroke-miterlimit="3">(Trabajo de Cierre)</text>
<rect x="1747.50" y="747.50" width="7.00" height="38.00" fill="#3c3130"/>
<text x="1762.44" y="772.00" textLength="53.36" lengthAdjust="spacingAndGlyphs" font-size="16.00" fill="#0a0a0a" stroke="#0a0a0a" stroke-width="0.4" stroke-linejoin="round" stroke-miterlimit="3">Taller AFE</text>
<rect x="1747.50" y="815.00" width="7.00" height="38.00" fill="#3c3130"/>
<text x="1761.69" y="839.75" textLength="61.50" lengthAdjust="spacingAndGlyphs" font-size="16.00" fill="#0a0a0a" stroke="#0a0a0a" stroke-width="0.4" stroke-linejoin="round" stroke-miterlimit="3">Electivo VII</text>
<text x="947.20" y="748.29" textLength="233.46" lengthAdjust="spacingAndGlyphs" font-size="16.20" fill="#0a0a0a" stroke="#0a0a0a" stroke-width="0.5" transform="rotate(-90 947.20 748.29)">Taller de Integración (Ámbito Profesional)</text>
<text x="1348.50" y="747.15" textLength="106.91" lengthAdjust="spacingAndGlyphs" font-size="18.00" fill="#0a0a0a" stroke="#0a0a0a" stroke-width="0.45" transform="rotate(-90 1348.50 747.15)">EXAMEN DE GRADO</text>
<text x="400.45" y="1074.98" textLength="1192.69" lengthAdjust="spacingAndGlyphs" font-size="16.50" fill="#0a0a0a" stroke="#0a0a0a" stroke-width="0.45" stroke-linejoin="round" stroke-miterlimit="3">La estructura y los contenidos de las mallas curriculares pueden estar sujetos a ajustes y mejoras continuas, con el fin de asegurar la calidad académica y responder a las necesidades del entorno profesional y social.</text>
<text x="893.00" y="1099.68" textLength="207.90" lengthAdjust="spacingAndGlyphs" font-size="16.50" fill="#0a0a0a" stroke="#0a0a0a" stroke-width="0.45" stroke-linejoin="round" stroke-miterlimit="3">*Malla en tramitación final para 2026.</text>
</svg>
</body></html>
